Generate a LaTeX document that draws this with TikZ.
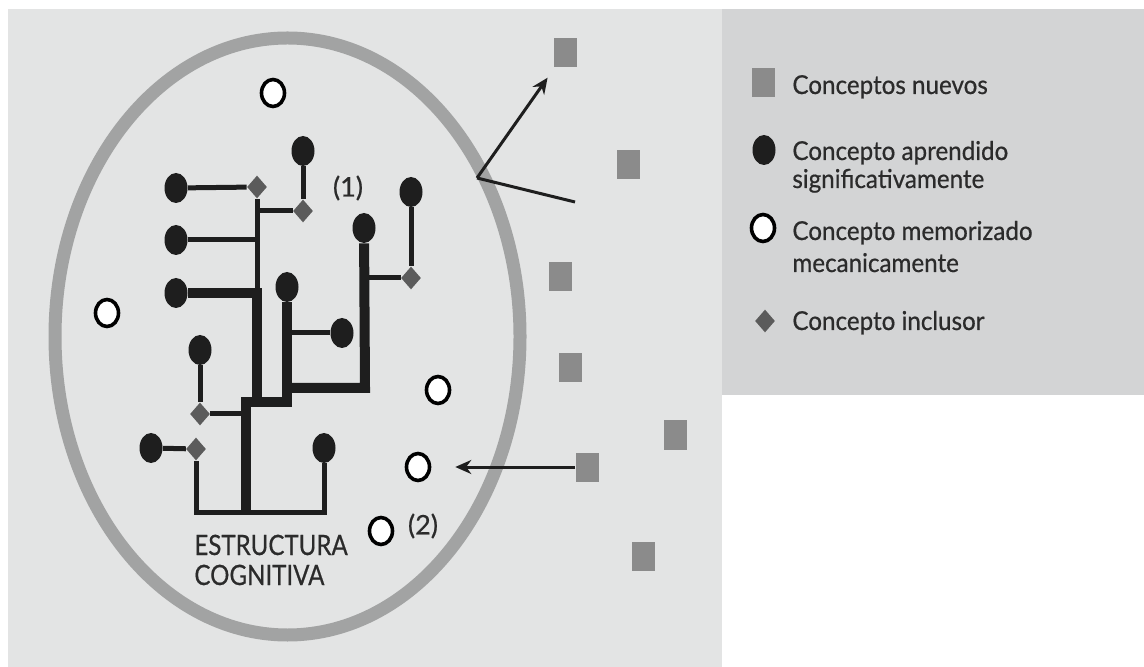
\documentclass[tikz,border=0pt]{standalone}
\usepackage{fontspec}
\setmainfont{Lato}[FakeBold=0.6]
\usetikzlibrary{shapes.geometric,arrows.meta}
\definecolor{panelL}{HTML}{E3E4E4}
\definecolor{panelR}{HTML}{D3D4D5}
\definecolor{ringc}{HTML}{A2A3A3}
\definecolor{sqc}{HTML}{8B8B8B}
\definecolor{diac}{HTML}{5B5B5B}
\definecolor{dotc}{HTML}{1E1E1E}
\definecolor{txt}{HTML}{2B2B2B}
\newcommand{\lgtext}[1]{\scalebox{0.93}[1]{#1}}
\newcommand{\bigtext}[1]{\scalebox{0.86}[1]{#1}}
\begin{document}
\begin{tikzpicture}[x=0.5pt,y=-0.5pt,
 dotn/.style={ellipse, fill=dotc, minimum width=11.5pt, minimum height=15pt, inner sep=0},
 opn/.style={ellipse, draw=black, fill=white, line width=1.8pt, minimum width=11.5pt, minimum height=13.5pt, inner sep=0},
 dian/.style={diamond, fill=diac, minimum width=10pt, minimum height=11.5pt, inner sep=0},
 sqn/.style={rectangle, fill=sqc, minimum width=11.5pt, minimum height=14.5pt, inner sep=0},
 thinl/.style={line width=2.5pt, draw=dotc},
 thickl/.style={line width=5pt, draw=dotc},
 arr/.style={line width=1.5pt, draw=dotc, -{Stealth[length=8pt,width=7pt]}},
 lg/.style={anchor=base west, inner sep=0, text=txt, font=\fontsize{13pt}{15pt}\selectfont},
 big/.style={anchor=base west, inner sep=0, text=txt, font=\fontsize{14pt}{16pt}\selectfont},
 lab/.style={inner sep=0, text=txt, font=\fontsize{13.5pt}{15pt}\selectfont},
]
\useasboundingbox (0,0) rectangle (1144,667);
\fill[white] (0,0) rectangle (1144,667);
\fill[panelL] (8,9) rectangle (722,667);
\fill[panelR] (722,9) rectangle (1144,395);

% ring
\draw[ringc, line width=6.5pt] (287.5,336.5) ellipse [x radius=232.5, y radius=298.5];

% meaningful concepts (black dots)
\node[dotn] (a1) at (176,188) {};
\node[dotn] (a2) at (176,240) {};
\node[dotn] (a3) at (176,293) {};
\node[dotn] (b1) at (303,151) {};
\node[dotn] (c1) at (411,192) {};
\node[dotn] (c2) at (364,228) {};
\node[dotn] (c3) at (287,287) {};
\node[dotn] (c4) at (342,333) {};
\node[dotn] (c5) at (200,350) {};
\node[dotn] (c6) at (151,448) {};
\node[dotn] (c7) at (324,448) {};

% subsumers (diamonds)
\node[dian] (k1) at (257,187) {};
\node[dian] (k2) at (303,211) {};
\node[dian] (k3) at (411,278) {};
\node[dian] (k4) at (200,414) {};
\node[dian] (k5) at (196,449) {};

% rote concepts (open circles)
\node[opn] (o1) at (273,93) {};
\node[opn] (o2) at (107,313) {};
\node[opn] (o3) at (438,390) {};
\node[opn] (o4) at (418,467) {};
\node[opn] (o5) at (381,531) {};

% new concepts (squares)
\node[sqn] (s1) at (565,53) {};
\node[sqn] (s2) at (628,165) {};
\node[sqn] (s3) at (560,277) {};
\node[sqn] (s4) at (570,368) {};
\node[sqn] (s5) at (675,435) {};
\node[sqn] (s6) at (587,467) {};
\node[sqn] (s7) at (643,556) {};

% junction coordinates
\coordinate (j1) at (257,211);
\coordinate (j2) at (257,240);
\coordinate (j3) at (257,293);
\coordinate (j4) at (257,402);
\coordinate (t0) at (246,514.5);
\coordinate (t1) at (246,402);
\coordinate (t2) at (287,402);
\coordinate (r1) at (365,388);
\coordinate (r2) at (287,388);
\coordinate (h1) at (287,333);
\coordinate (h2) at (365,278);
\coordinate (h3) at (246,414);
\coordinate (bl) at (196,512);
\coordinate (br) at (324,512);
\coordinate (p) at (477,178);
\coordinate (q) at (575,202);

% thin branches
\draw[thinl] (a1) -- (k1);
\draw[thinl] (k1) -- (j3);
\draw[thinl] (k2) -- (j1);
\draw[thinl] (b1) -- (k2);
\draw[thinl] (a2) -- (j2);
\draw[thinl] (c1) -- (k3);
\draw[thinl] (k3) -- (h2);
\draw[thinl] (c4) -- (h1);
\draw[thinl] (c5) -- (k4);
\draw[thinl] (k4) -- (h3);
\draw[thinl] (c6) -- (k5);
\draw[thinl] (k5) -- (bl) -- (br) -- (c7);

% thick branches
\draw[thickl] (a3) -- (j3) -- (j4);
\draw[thickl] (t0) -- (t1) -- (t2) -- (c3);
\draw[thickl] (c2) -- (r1) -- (r2);

% arrows
\draw[arr, shorten >=6pt] (p) -- (s1);
\draw[line width=1.5pt, draw=dotc] (p) -- (q);
\draw[arr, shorten >=12pt] (s6) -- (o4);

% labels
\node[lab] (l1) at (348,188) {(1)};
\node[lab] (l2) at (423,526) {(2)};
\node[big] (e1) at (194,555) {\bigtext{ESTRUCTURA}};
\node[big] (e2) at (194,585) {\bigtext{COGNITIVA}};

% legend
\node[sqn] (ls) at (763,83) {};
\node[dotn] (ld) at (764,150) {};
\node[opn] (lo) at (763,228) {};
\node[dian] (lk) at (765,321) {};
\node[lg] (g1) at (792,94) {\lgtext{Conceptos nuevos}};
\node[lg] (g2) at (792,160) {\lgtext{Concepto aprendido}};
\node[lg] (g3) at (792,188) {\lgtext{significativamente}};
\node[lg] (g4) at (792,240) {\lgtext{Concepto memorizado}};
\node[lg] (g5) at (792,272) {\lgtext{mecanicamente}};
\node[lg] (g6) at (792,330) {\lgtext{Concepto inclusor}};
\end{tikzpicture}
\end{document}
